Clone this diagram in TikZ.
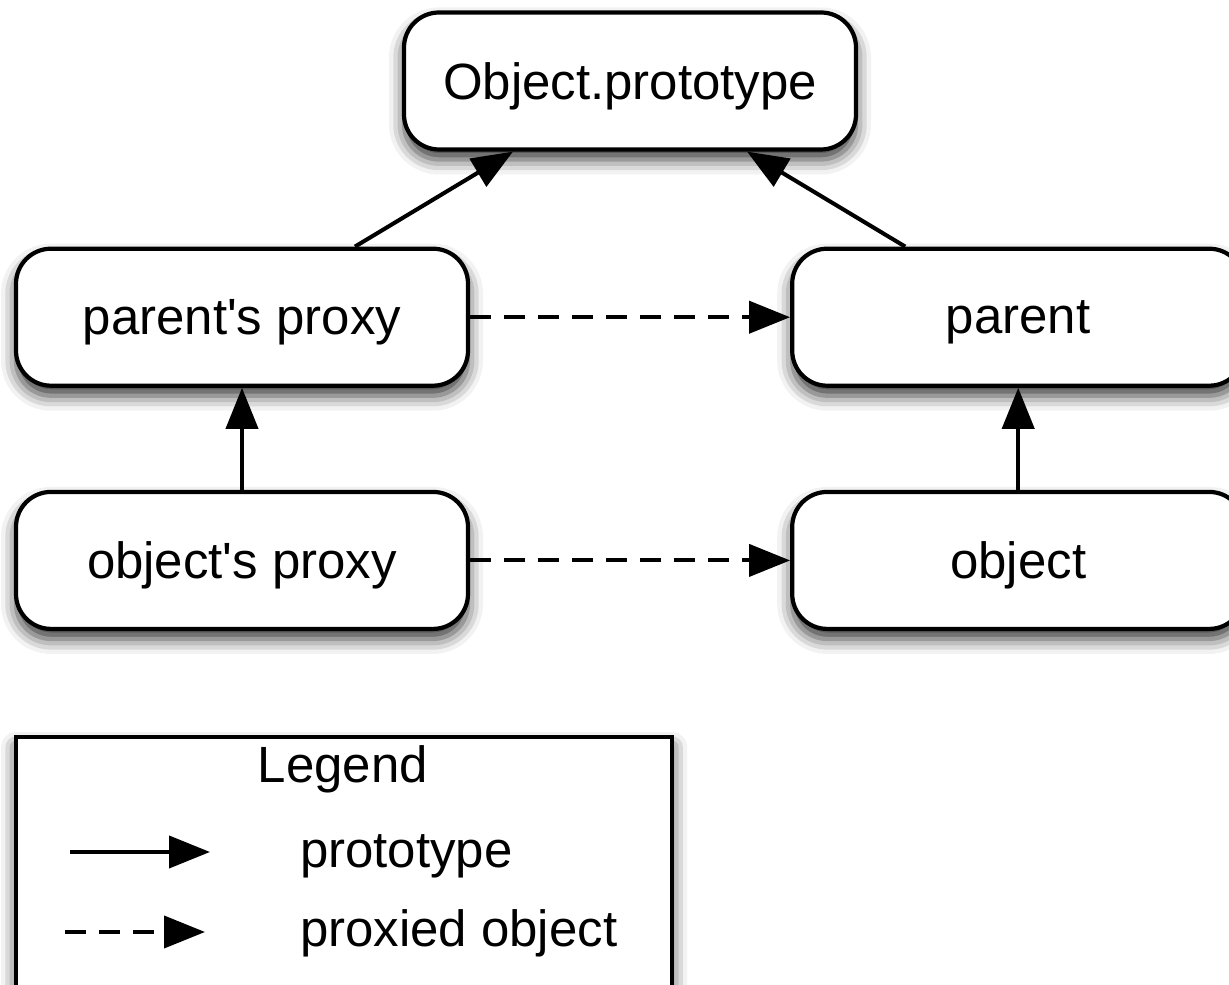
\documentclass[tikz,border=0pt]{standalone}
\usepackage{fontspec}
\setmainfont{Liberation Sans}
\usetikzlibrary{arrows.meta}
\usetikzlibrary{shadows.blur}
\usetikzlibrary{positioning}

\begin{document}
\begin{tikzpicture}[-{Triangle[length=0.82cm,width=0.64cm]}, line width=2.3pt,
	  every node/.style={font=\fontsize{29}{35}\selectfont},
	  box/.style={rectangle,rounded corners=0.7cm,fill=white,draw,line width=2.4pt,minimum width=9.04cm,minimum height=2.74cm,text depth=0pt,
	    blur shadow={shadow xshift=0pt,shadow yshift=-0.2cm,shadow blur radius=0.3cm,shadow opacity=80}},
	  legbox/.style={rectangle,fill=white,draw,line width=2.4pt,minimum width=13.12cm,minimum height=5.6cm,anchor=north west,
	    blur shadow={shadow xshift=0pt,shadow yshift=-0.2cm,shadow blur radius=0.3cm,shadow opacity=80}},
	  legtxt/.style={inner sep=0pt,anchor=base west},
	  prx/.style={dash pattern=on 0.42cm off 0.26cm}]
	  \useasboundingbox (0,0) rectangle (24.58,-19.7);
	  \node[box] (0) at (12.6,-1.62) {Object.prototype};
	  \node[box] (1) [below=1.9cm of 0, xshift=-7.76cm] {parent\textquotesingle s proxy};
	  \node[box] (2) [right=6.4cm of 1] {parent};
	  \node[box] (3) [below=2.04cm of 1] {object\textquotesingle s proxy};
	  \node[box] (4) [right=6.4cm of 3] {object};
%
	  \node[legbox] (lg) at (0.28,-14.7) {};
	  \node[inner sep=0pt,anchor=base] (lt) at (6.86,-15.66) {Legend};
	  \node[legtxt] (l1) at (5.96,-17.36) {prototype};
	  \node[legtxt] (l2) at (5.96,-18.94) {proxied object};
	  \coordinate (l1a) at (1.4,-17.04);
	  \coordinate (l1b) at (4.2,-17.04);
	  \coordinate (l2a) at (1.3,-18.64);
	  \coordinate (l2b) at (4.1,-18.64);
%
	  \path
	    ([xshift=2.26cm]1.north) edge ([xshift=-2.34cm]0.south)
	    ([xshift=-2.26cm]2.north) edge ([xshift=2.34cm]0.south)
	    (3) edge (1)
	    (4) edge (2)
	    (1) edge [prx] (2)
	    (3) edge [prx] (4)
	    (l1a) edge (l1b)
	    (l2a) edge [prx] (l2b);
	\end{tikzpicture}
\end{document}
